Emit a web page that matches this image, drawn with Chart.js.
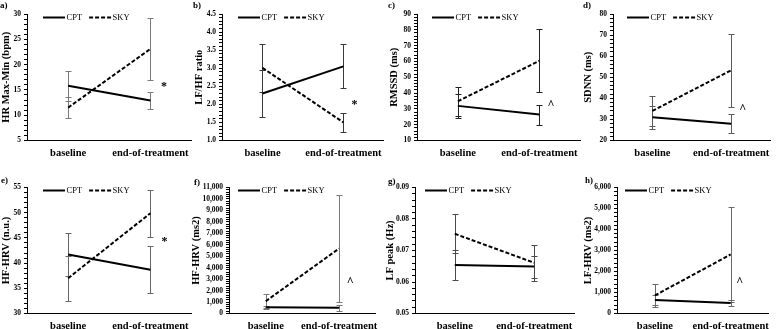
<!DOCTYPE html>
<html><head><meta charset="utf-8">
<script src="https://cdn.jsdelivr.net/npm/chart.js@4"></script>
<style>
html,body{margin:0;padding:0;background:#fff;}
body{position:relative;width:776px;height:329px;overflow:hidden;}
canvas{position:absolute;}
.plab{position:absolute;font:bold 9px "Liberation Serif";line-height:10px;color:#000;z-index:5;}
</style>
</head><body>
<script>
// ---- data ----
const categories = ['baseline', 'end-of-treatment'];
const groupNames = ['CPT', 'SKY'];

// a) HR Max-Min (bpm)
const hrRangeCPT = [15.8, 12.9];
const hrRangeCPTsd = [2.9, 1.7];
const hrRangeSKY = [11.5, 23.1];
const hrRangeSKYsd = [2.0, 6.2];
const ticksA = [5, 10, 15, 20, 25, 30];

// b) LF/HF ratio
const lfhfCPT = [2.30, 3.05];
const lfhfCPTsd = [0.65, 0.61];
const lfhfSKY = [3.01, 1.50];
const lfhfSKYsd = [0.67, 0.27];
const ticksB = [1.0, 1.5, 2.0, 2.5, 3.0, 3.5, 4.0, 4.5];

// c) RMSSD (ms)
const rmssdCPT = [31.9, 26.4];
const rmssdCPTsd = [7.7, 6.3];
const rmssdSKY = [34.8, 60.4];
const rmssdSKYsd = [9.2, 19.9];
const ticksC = [10, 20, 30, 40, 50, 60, 70, 80, 90];

// d) SDNN (ms)
const sdnnCPT = [31.0, 28.0];
const sdnnCPTsd = [5.5, 4.6];
const sdnnSKY = [34.0, 53.3];
const sdnnSKYsd = [7.1, 17.2];
const ticksD = [20, 30, 40, 50, 60, 70, 80];

// e) HF-HRV (n.u.)
const hfnuCPT = [41.7, 38.7];
const hfnuCPTsd = [4.3, 4.6];
const hfnuSKY = [37.0, 49.9];
const hfnuSKYsd = [4.5, 4.7];
const ticksE = [30, 35, 40, 45, 50, 55];

// f) HF-HRV (ms2)
const hfmsCPT = [540, 500];
const hfmsCPTsd = [150, 270];
const hfmsSKY = [1070, 5680];
const hfmsSKYsd = [620, 4650];
const ticksF = [0, 1000, 2000, 3000, 4000, 5000, 6000, 7000, 8000, 9000, 10000, 11000];

// g) LF peak (Hz)
const lfpeakCPT = [0.0654, 0.0649];
const lfpeakCPTsd = [0.0047, 0.0035];
const lfpeakSKY = [0.0753, 0.0661];
const lfpeakSKYsd = [0.0062, 0.0057];
const ticksG = [0.05, 0.06, 0.07, 0.08, 0.09];

// h) LF-HRV (ms2)
const lfmsCPT = [640, 500];
const lfmsCPTsd = [250, 140];
const lfmsSKY = [860, 2810];
const lfmsSKYsd = [560, 2250];
const ticksH = [0, 1000, 2000, 3000, 4000, 5000, 6000];

// significance markers next to end-of-treatment
const sigMarks = ['*', '*', '^', '^', '*', '^', '', '^'];

// ---- formatting helpers ----
const fmtInt = v => String(Math.round(v));
const fmt1 = v => v.toFixed(1);
const fmt2 = v => v.toFixed(2);
const fmtK = v => Math.round(v).toLocaleString('en-US');

const SERIF = '"Liberation Serif", "Times New Roman", serif';

// ---- plugins ----
const errorBars = {
  id: 'errorBars',
  beforeDatasetsDraw(chart, args, opts) {
    const {ctx, scales: {x, y}} = chart;
    ctx.save();
    ctx.strokeStyle = opts.color || '#666';
    ctx.lineWidth = 1;
    chart.data.datasets.forEach(ds => {
      ds.data.forEach((v, i) => {
        const e = ds.errors[i];
        const px = Math.round(x.getPixelForValue(i)) + 0.5;
        const t = Math.round(y.getPixelForValue(v + e)) + 0.5;
        const b = Math.round(y.getPixelForValue(v - e)) + 0.5;
        ctx.beginPath();
        ctx.moveTo(px, t); ctx.lineTo(px, b);
        ctx.moveTo(px - 3, t); ctx.lineTo(px + 3, t);
        ctx.moveTo(px - 3, b); ctx.lineTo(px + 3, b);
        ctx.stroke();
      });
    });
    ctx.restore();
  }
};

const sigMark = {
  id: 'sigMark',
  afterDatasetsDraw(chart, args, opts) {
    if (!opts.text) return;
    const {ctx, scales: {x, y}} = chart;
    ctx.save();
    ctx.font = 'bold 12px ' + SERIF;
    ctx.fillStyle = '#000';
    ctx.textAlign = 'center';
    ctx.textBaseline = 'middle';
    ctx.fillText(opts.text, x.getPixelForValue(1) + opts.dx, y.getPixelForValue(opts.y) + 3);
    ctx.restore();
  }
};

const inlineLegend = {
  id: 'inlineLegend',
  afterDraw(chart, args, o) {
    const {ctx, chartArea} = chart;
    let x = chartArea.left + o.dx;
    const y = Math.round(chartArea.top + o.dy) + 0.5;
    ctx.save();
    ctx.font = '8.5px ' + SERIF;
    ctx.textBaseline = 'middle';
    ctx.fillStyle = '#000';
    chart.data.datasets.forEach(ds => {
      ctx.strokeStyle = ds.borderColor;
      ctx.lineWidth = 2;
      ctx.setLineDash(ds.borderDash || []);
      ctx.beginPath();
      ctx.moveTo(x, y); ctx.lineTo(x + 22, y);
      ctx.stroke();
      ctx.setLineDash([]);
      x += 23.5;
      ctx.fillText(ds.label, x, y + 0.5);
      x += ctx.measureText(ds.label).width + 7;
    });
    ctx.restore();
  }
};

// ---- panel layout ----
const R1 = {y: 0, h: 165, padTop: 14, xH: 24.5, legDy: 3};
const R2 = {y: 165, h: 164, padTop: 22.5, xH: 15.5, legDy: 2.5};

const panels = [
  {lab: 'a)', lx: 0, ly: 0, row: R1, x: 0, w: 195, axisW: 27, padR: 2, title: 'HR Max-Min (bpm)', ticks: ticksA, fmt: fmtInt,
   cpt: hrRangeCPT, cptSd: hrRangeCPTsd, sky: hrRangeSKY, skySd: hrRangeSKYsd, markY: 16.2, markDx: 13.5, legDx: 16, err: '#7a7a7a'},
  {lab: 'b)', lx: 193, ly: 0, row: R1, x: 193, w: 195, axisW: 29, padR: 2, title: 'LF/HF ratio', ticks: ticksB, fmt: fmt1,
   cpt: lfhfCPT, cptSd: lfhfCPTsd, sky: lfhfSKY, skySd: lfhfSKYsd, markY: 2.07, markDx: 11, legDx: 16, err: '#3a3a3a'},
  {lab: 'c)', lx: 388, ly: 0, row: R1, x: 388, w: 196, axisW: 29, padR: 2, title: 'RMSSD (ms)', ticks: ticksC, fmt: fmtInt,
   cpt: rmssdCPT, cptSd: rmssdCPTsd, sky: rmssdSKY, skySd: rmssdSKYsd, markY: 34.5, markDx: 11.5, legDx: 15, err: '#222'},
  {lab: 'd)', lx: 583, ly: 0, row: R1, x: 582, w: 194, axisW: 31, padR: 3, title: 'SDNN (ms)', ticks: ticksD, fmt: fmtInt,
   cpt: sdnnCPT, cptSd: sdnnCPTsd, sky: sdnnSKY, skySd: sdnnSKYsd, markY: 36.4, markDx: 11.5, legDx: 14, err: '#5a5a5a'},
  {lab: 'e)', lx: 1, ly: 175, row: R2, x: 0, w: 195, axisW: 27, padR: 2, title: 'HF-HRV (n.u.)', ticks: ticksE, fmt: fmtInt,
   cpt: hfnuCPT, cptSd: hfnuCPTsd, sky: hfnuSKY, skySd: hfnuSKYsd, markY: 44.8, markDx: 14, legDx: 16, err: '#666'},
  {lab: 'f)', lx: 194, ly: 177, row: R2, x: 190, w: 194, axisW: 39, padR: 3, title: 'HF-HRV (ms2)', ticks: ticksF, fmt: fmtK,
   cpt: hfmsCPT, cptSd: hfmsCPTsd, sky: hfmsSKY, skySd: hfmsSKYsd, markY: 3050, markDx: 11, legDx: 9, err: '#7a7a7a'},
  {lab: 'g)', lx: 388, ly: 176, row: R2, x: 384, w: 198, axisW: 31, padR: 8, title: 'LF peak (Hz)', ticks: ticksG, fmt: fmt2,
   cpt: lfpeakCPT, cptSd: lfpeakCPTsd, sky: lfpeakSKY, skySd: lfpeakSKYsd, markY: 0, markDx: 12, legDx: 10, err: '#4a4a4a'},
  {lab: 'h)', lx: 585, ly: 175, row: R2, x: 582, w: 194, axisW: 35, padR: 5, title: 'LF-HRV (ms2)', ticks: ticksH, fmt: fmtK,
   cpt: lfmsCPT, cptSd: lfmsCPTsd, sky: lfmsSKY, skySd: lfmsSKYsd, markY: 1663, markDx: 9, legDx: 8, err: '#6a6a6a'}
];

panels.forEach((p, idx) => {
  const cv = document.createElement('canvas');
  cv.width = p.w; cv.height = p.row.h;
  cv.style.left = p.x + 'px'; cv.style.top = p.row.y + 'px';
  cv.style.width = p.w + 'px'; cv.style.height = p.row.h + 'px';
  document.body.appendChild(cv);

  const lab = document.createElement('div');
  lab.className = 'plab';
  lab.textContent = p.lab;
  lab.style.left = p.lx + 'px'; lab.style.top = p.ly + 'px';
  document.body.appendChild(lab);

  const major = p.ticks[1] - p.ticks[0];
  const minor = major / 5;
  const isMajor = v => p.ticks.some(t => Math.abs(t - v) < major * 1e-6);

  new Chart(cv, {
    type: 'line',
    data: {
      labels: categories,
      datasets: [
        {label: groupNames[0], data: p.cpt, errors: p.cptSd, borderColor: '#000', borderWidth: 2, pointRadius: 0, tension: 0},
        {label: groupNames[1], data: p.sky, errors: p.skySd, borderColor: '#000', borderWidth: 2, borderDash: [4, 2], pointRadius: 0, tension: 0}
      ]
    },
    plugins: [errorBars, sigMark, inlineLegend],
    options: {
      responsive: false,
      animation: false,
      devicePixelRatio: 1,
      events: [],
      layout: {padding: {left: 0, top: p.row.padTop, right: p.padR, bottom: 0}},
      plugins: {
        legend: {display: false},
        tooltip: {enabled: false},
        errorBars: {color: p.err},
        sigMark: {text: sigMarks[idx], y: p.markY, dx: p.markDx},
        inlineLegend: {dx: p.legDx, dy: p.row.legDy}
      },
      scales: {
        x: {
          type: 'category',
          offset: true,
          grid: {display: true, drawOnChartArea: false, drawTicks: false},
          border: {display: true, color: '#000', width: 1},
          ticks: {color: '#000', font: {family: SERIF, size: 10.5, weight: 'bold'}, padding: 6, maxRotation: 0, autoSkip: false},
          afterFit(scale) { scale.height = p.row.xH; }
        },
        y: {
          type: 'linear',
          min: p.ticks[0],
          max: p.ticks[p.ticks.length - 1],
          grid: {display: true, drawOnChartArea: false, drawTicks: true, tickLength: 3, color: '#000', tickColor: '#000'},
          border: {display: true, color: '#000', width: 1},
          ticks: {
            stepSize: minor,
            autoSkip: false,
            color: '#000',
            padding: 3,
            font: {family: SERIF, size: 7.5, weight: 'bold'},
            callback: v => isMajor(v) ? p.fmt(v) : ''
          },
          title: {display: true, text: p.title, color: '#000', font: {family: SERIF, size: 10.5, weight: 'bold'}, padding: {top: 0, bottom: 0}},
          afterFit(scale) { scale.width = p.axisW; }
        }
      }
    }
  });
});
</script>
</body></html>
